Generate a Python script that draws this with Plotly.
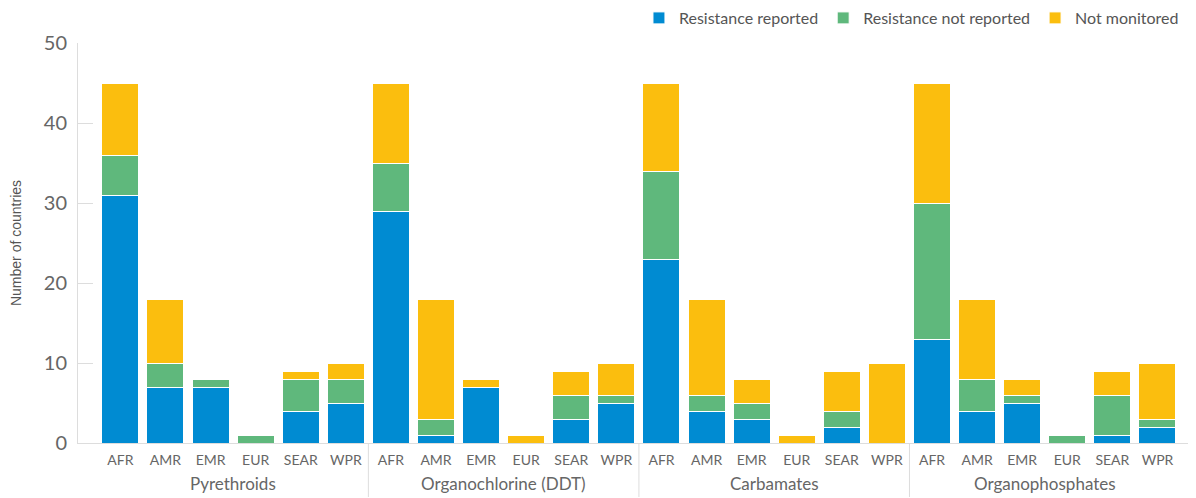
import plotly.graph_objects as go

groups = ["Pyrethroids", "Organochlorine (DDT)", "Carbamates", "Organophosphates"]
regions = ["AFR", "AMR", "EMR", "EUR", "SEAR", "WPR"]

resistance_reported = [
    31, 7, 7, 0, 4, 5,
    29, 1, 7, 0, 3, 5,
    23, 4, 3, 0, 2, 0,
    13, 4, 5, 0, 1, 2,
]
resistance_not_reported = [
    5, 3, 1, 1, 4, 3,
    6, 2, 0, 0, 3, 1,
    11, 2, 2, 0, 2, 0,
    17, 4, 1, 1, 5, 1,
]
not_monitored = [
    9, 8, 0, 0, 1, 2,
    10, 15, 1, 1, 3, 4,
    11, 12, 3, 1, 5, 10,
    15, 10, 2, 0, 3, 7,
]

keys = [f"{g} | {r}" for g in groups for r in regions]
tick_text = [r for _ in groups for r in regions]

series = [
    ("Resistance reported", resistance_reported, "#008bd2"),
    ("Resistance not reported", resistance_not_reported, "#5fb87c"),
    ("Not monitored", not_monitored, "#fbbe0e"),
]

FONT = "Lato"
fig = go.Figure()
for name, vals, col in series:
    fig.add_trace(go.Bar(
        x=keys, y=vals, name=name,
        marker=dict(color=col, line=dict(color="white", width=1)),
    ))

n = len(regions)
for i, g in enumerate(groups):
    fig.add_annotation(
        x=i * n + (n - 1) / 2, xref="x", y=-0.1, yref="paper",
        text=g, showarrow=False, yanchor="middle", xanchor="center",
        font=dict(family=FONT, size=17, color="#666666"),
    )
    if i > 0:
        fig.add_shape(
            type="line", xref="x", yref="paper",
            x0=i * n - 0.5, x1=i * n - 0.5, y0=0, y1=-0.135,
            line=dict(color="#dddddd", width=1),
        )

fig.update_layout(
    barmode="stack",
    bargap=0.18,
    width=1196, height=498,
    margin=dict(l=70, r=10, t=35, b=63, autoexpand=False),
    plot_bgcolor="white", paper_bgcolor="white",
    font=dict(family=FONT, color="#666666"),
    legend=dict(
        orientation="h", xanchor="right", x=0.991, yanchor="bottom", y=1.02,
        font=dict(size=16, color="#555555"), traceorder="normal",
        itemwidth=30,
    ),
    xaxis=dict(
        type="category",
        range=[-0.94, 23.81],
        tickvals=keys, ticktext=tick_text,
        showline=True, linecolor="#dddddd", linewidth=1,
        tickfont=dict(size=14, color="#666666"),
        ticklabelstandoff=4,
        showgrid=False, ticks="",
    ),
    yaxis=dict(
        range=[0, 50], dtick=10, showgrid=False,
        showline=True, linecolor="#dddddd", linewidth=1,
        ticks="inside", ticklen=15, tickcolor="#dddddd",
        tickfont=dict(size=20, color="#666666"),
        ticklabelstandoff=6,
        title=dict(text="Number of countries",
                   font=dict(family="Liberation Sans", size=14, color="#555555"),
                   standoff=20),
        zeroline=False,
    ),
)

fig.write_html("out.html")
